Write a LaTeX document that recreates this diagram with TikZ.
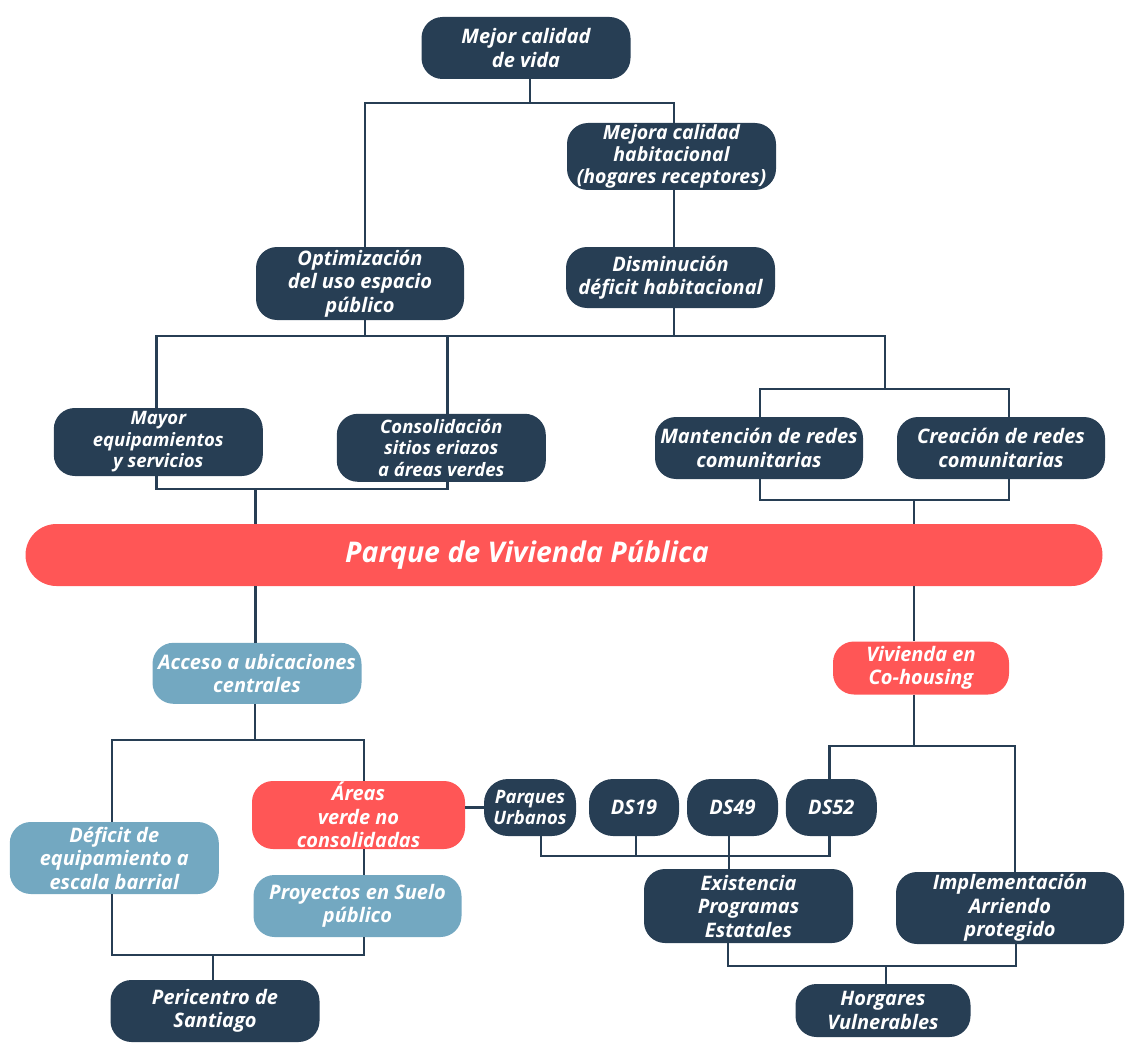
\documentclass[tikz,border=0pt]{standalone}
\usepackage{fontspec}
\setmainfont{Open Sans}
\definecolor{navy}{RGB}{39,62,84}
\definecolor{sky}{RGB}{115,168,193}
\definecolor{coral}{RGB}{255,86,86}
\tikzset{
  box/.style={rounded corners=21pt, inner sep=0pt, align=center, text=white,
    font=\bfseries\itshape\fontsize{20}{23.5}\selectfont},
  dk/.style={box, fill=navy},
  lb/.style={box, fill=sky},
  rd/.style={box, fill=coral},
  sz/.style 2 args={minimum width=#1pt, minimum height=#2pt},
  smalltxt/.style={font=\bfseries\itshape\fontsize{18.5}{21.5}\selectfont},
  ln/.style={draw=navy, line width=2.6pt},
}
\begin{document}
\begin{tikzpicture}[x=1pt,y=-1pt]
\useasboundingbox (0,0) rectangle (1128,1046);
% nodes
\node[dk, sz={209}{62}] (mejor) at (526,48) {Mejor calidad\\de vida};
\node[dk, font=\bfseries\itshape\fontsize{19.5}{22}\selectfont, sz={209}{67}] (mejora) at (671.5,156.5) {Mejora calidad\\habitacional\\(hogares receptores)};
\node[dk, sz={208}{73}] (optim) at (360,283.5) {Optimización\\del uso espacio\\público};
\node[dk, sz={209}{61}] (dismi) at (670.5,277.5) {Disminución\\déficit habitacional};
\node[dk, smalltxt, sz={209}{68}] (mayor) at (158.3,442) {Mayor\\equipamientos\\y servicios};
\node[dk, smalltxt, sz={209}{68}] (conso) at (441.3,447.8) {Consolidación\\sitios eriazos\\a áreas verdes};
\node[dk, sz={208}{62}] (mant) at (759,448) {Mantención de redes\\comunitarias};
\node[dk, sz={208}{62}] (crea) at (1001,448) {Creación de redes\\comunitarias};
\node[rd, sz={1077}{62}, rounded corners=31pt, font=\bfseries\itshape\fontsize{28.5}{32}\selectfont] (parque) at (564,555) {\hspace*{-74pt}Parque de Vivienda Pública};
\node[lb, sz={209}{61}] (acceso) at (257,673.3) {Acceso a ubicaciones\\centrales};
\node[rd, sz={176}{53}] (vivienda) at (921,668) {Vivienda en\\Co-housing};
\node[lb, sz={209}{72}] (deficit) at (114.3,858) {Déficit de\\equipamiento a\\escala barrial};
\node[rd, sz={213}{68}] (areas) at (358.5,815) {Áreas\\verde no\\consolidadas};
\node[lb, sz={208}{62}] (proy) at (357.5,906) {Proyectos en Suelo\\público};
\node[dk, sz={209}{62}] (peri) at (215,1011) {Pericentro de\\Santiago};
\node[dk, smalltxt, sz={92}{57}, rounded corners=24pt] (parques) at (530,807.5) {Parques\\Urbanos};
\node[dk, sz={90}{57}, rounded corners=24pt] (ds19) at (634,807.5) {DS19};
\node[dk, sz={91}{57}, rounded corners=24pt] (ds49) at (732.5,807.5) {DS49};
\node[dk, sz={91}{57}, rounded corners=24pt] (ds52) at (831.3,807.5) {DS52};
\node[dk, sz={209}{74}] (exist) at (748.5,906) {Existencia\\Programas\\Estatales};
\node[dk, sz={228}{72}] (impl) at (1010,908) {Implementación\\Arriendo\\protegido};
\node[dk, sz={175}{53}] (horg) at (883,1010.5) {Horgares\\Vulnerables};
% connectors top
\coordinate (t1) at (530,103);
\draw[ln] ([xshift=4pt]mejor.south) -- (t1);
\draw[ln] ([xshift=5pt]optim.north) |- (t1) -| ([xshift=2.5pt]mejora.north);
\draw[ln] ([xshift=2.5pt]mejora.south) -- ([xshift=3.5pt]dismi.north);
% row 2 bus
\coordinate (b2) at (885,336);
\coordinate (b3) at (885,389);
\draw[ln] ([xshift=5pt]optim.south) -- ([xshift=5pt]optim.south |- b2);
\draw[ln] ([xshift=3.5pt]dismi.south) -- ([xshift=3.5pt]dismi.south |- b2);
\draw[ln] ([xshift=-2pt]mayor.north) |- (b2) -- (b3);
\draw[ln] ([xshift=6pt]conso.north) -- ([xshift=6pt]conso.north |- b2);
\draw[ln] ([xshift=1pt]mant.north) |- (b3) -| ([xshift=8pt]crea.north);
% above parque
\coordinate (b4) at (914,500);
\draw[ln] ([xshift=1pt]mant.south) |- (b4) -| ([xshift=8pt]crea.south);
\draw[ln] (b4) -- (b4 |- parque.north);
\coordinate (b5) at (255.5,489);
\draw[ln] ([xshift=-2pt]mayor.south) |- (b5) -| ([xshift=6pt]conso.south);
\draw[ln] (b5) -- (b5 |- parque.north);
% below parque
\draw[ln] (b5 |- parque.south) -- (b5 |- acceso.north);
\draw[ln] (b4 |- parque.south) -- (b4 |- vivienda.north);
% left lower
\coordinate (b6) at (255,740);
\draw[ln] (b6 |- acceso.south) -- (b6);
\draw[ln] ([xshift=-2.5pt]deficit.north) |- (b6) -| ([xshift=5.5pt]areas.north);
\draw[ln] (parques.west -| areas.east) -- (parques.west);
\draw[ln] ([xshift=5.5pt]areas.south) -- ([xshift=5.5pt]areas.south |- proy.north);
\coordinate (b7) at (213,955);
\draw[ln] ([xshift=-2.5pt]deficit.south) |- (b7) -| ([xshift=5.5pt]areas.south |- proy.south);
\draw[ln] (b7) -- (b7 |- peri.north);
% right lower
\coordinate (b8) at (914,746);
\draw[ln] (b8 |- vivienda.south) -- (b8);
\draw[ln] ([xshift=-2pt]ds52.north) |- (b8) -| ([xshift=5pt]impl.north);
\coordinate (b9) at (636,856);
\draw[ln] ([xshift=11pt]parques.south) |- (b9) -| ([xshift=-2pt]ds52.south);
\draw[ln] (b9 |- ds19.south) -- (b9);
\draw[ln] ([xshift=-3.5pt]ds49.south) -- ([xshift=-3.5pt]ds49.south |- exist.north);
\coordinate (b10) at (886,966);
\draw[ln] ([xshift=-20.5pt]exist.south) |- (b10) -| ([xshift=6pt]impl.south);
\draw[ln] (b10) -- (b10 |- horg.north);
\end{tikzpicture}
\end{document}
